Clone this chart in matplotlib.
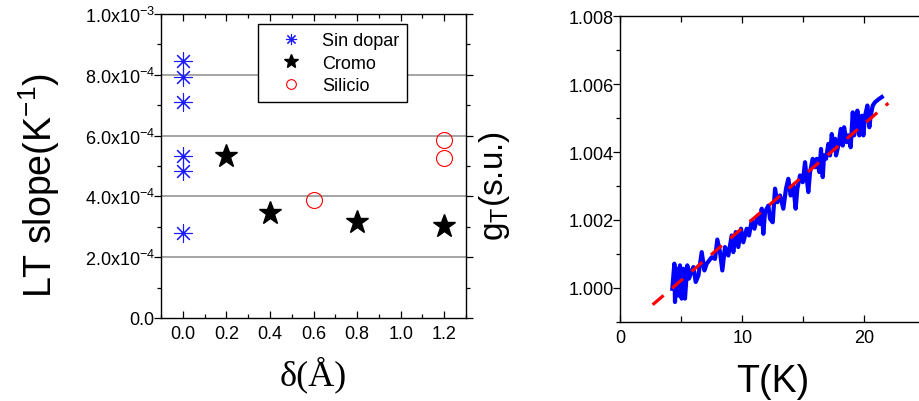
import numpy as np
import matplotlib
matplotlib.use('Agg')
import matplotlib.pyplot as plt
from matplotlib.ticker import MultipleLocator, FuncFormatter
from matplotlib.lines import Line2D

plt.rcParams['font.family'] = ['Liberation Sans', 'DejaVu Sans']
plt.rcParams['mathtext.fontset'] = 'custom'
plt.rcParams['mathtext.rm'] = 'Liberation Sans'
plt.rcParams['mathtext.it'] = 'Liberation Sans:italic'
plt.rcParams['mathtext.bf'] = 'Liberation Sans:bold'

# LT slope vs delta
sin_dopar_d = [0.0, 0.0, 0.0, 0.0, 0.0, 0.0]
sin_dopar_s = [8.44e-4, 7.92e-4, 7.11e-4, 5.34e-4, 4.83e-4, 2.79e-4]
cromo_d = [0.2, 0.4, 0.8, 1.2]
cromo_s = [5.34e-4, 3.44e-4, 3.15e-4, 3.03e-4]
silicio_d = [0.6, 1.2, 1.2]
silicio_s = [3.89e-4, 5.84e-4, 5.27e-4]

# g_T vs temperature
T_data = [4.26, 4.43, 4.48, 4.62, 4.76, 4.89, 5.03, 5.17, 5.30, 5.49, 5.63, 5.85,
          5.99, 6.18, 6.40, 6.67, 6.89, 7.08, 7.49, 7.76, 7.95, 8.17, 8.36, 8.58,
          8.85, 9.13, 9.26, 9.46, 9.67, 9.89, 10.08, 10.36, 10.55, 10.77, 10.99,
          11.26, 11.45, 11.59, 11.72, 11.86, 12.13, 12.27, 12.49, 12.68, 12.87,
          13.09, 13.36, 13.58, 13.77, 13.96, 14.18, 14.37, 14.51, 14.73, 14.95,
          15.14, 15.28, 15.41, 15.55, 15.77, 15.96, 16.10, 16.31, 16.45, 16.59,
          16.70, 16.86, 17.05, 17.19, 17.33, 17.46, 17.60, 17.68, 17.87, 18.07,
          18.23, 18.34, 18.55, 18.69, 18.88, 19.05, 19.16, 19.32, 19.43, 19.59,
          19.79, 19.92, 20.06, 20.25, 20.41, 20.52, 20.69, 20.88, 21.15, 21.43]
g_data = [0.99997, 1.00071, 0.99958, 1.00056, 0.99977, 1.00066, 0.99968, 1.00056,
          0.99968, 1.00066, 1.00027, 1.00051, 1.00061, 1.00017, 1.00036, 1.00105,
          1.00051, 1.00071, 1.00090, 1.00085, 1.00142, 1.00105, 1.00051, 1.00120,
          1.00095, 1.00154, 1.00105, 1.00164, 1.00120, 1.00174, 1.00134, 1.00174,
          1.00154, 1.00198, 1.00174, 1.00213, 1.00188, 1.00233, 1.00159, 1.00223,
          1.00242, 1.00203, 1.00193, 1.00292, 1.00252, 1.00272, 1.00233, 1.00292,
          1.00321, 1.00272, 1.00301, 1.00233, 1.00292, 1.00331, 1.00311, 1.00370,
          1.00321, 1.00282, 1.00341, 1.00380, 1.00355, 1.00380, 1.00341, 1.00409,
          1.00326, 1.00390, 1.00380, 1.00424, 1.00390, 1.00453, 1.00409, 1.00439,
          1.00390, 1.00419, 1.00468, 1.00419, 1.00473, 1.00429, 1.00449, 1.00414,
          1.00517, 1.00449, 1.00478, 1.00522, 1.00449, 1.00507, 1.00449, 1.00507,
          1.00537, 1.00473, 1.00507, 1.00537, 1.00547, 1.00555, 1.00562]
T_fit = [2.65, 21.97]
g_fit = [0.99950, 1.00544]


def sci_fmt(v, pos):
    if abs(v) < 1e-12:
        return '0.0'
    e = int(np.floor(np.log10(abs(v)) + 1e-9))
    m = v / 10**e
    return '%.1fx10$^{%d}$' % (m, e)


fig = plt.figure(figsize=(9.19, 4.02), dpi=100)
ax1 = fig.add_axes([0.1752, 0.2065, 0.3319, 0.7562])
ax2 = fig.add_axes([0.675, 0.1973, 0.3319, 0.7597])

for ax in (ax1, ax2):
    for s in ax.spines.values():
        s.set_linewidth(1.0)
    ax.tick_params(which='both', top=True, right=True, direction='in',
                   labelsize=13, width=0.9, pad=5)
    ax.tick_params(axis='y', which='both', left=True, direction='out', pad=-0.5)
    ax.tick_params(which='major', length=5)
    ax.tick_params(which='minor', length=3)

# left panel
for y in [2e-4, 4e-4, 6e-4, 8e-4]:
    ax1.axhline(y, color='#8c8c8c', lw=1.1, zorder=1)
ax1.plot(sin_dopar_d, sin_dopar_s, ls='none', marker=(8, 2, 0), ms=13,
         mec='#1a1aff', mew=0.8, zorder=3)
ax1.plot(cromo_d, cromo_s, ls='none', marker='*', ms=17, color='black', zorder=3)
ax1.plot(silicio_d, silicio_s, ls='none', marker='o', ms=11.5, mfc='none',
         mec='red', mew=0.8, zorder=3)
ax1.set_xlim(-0.1, 1.3)
ax1.set_ylim(0, 1e-3)
ax1.xaxis.set_major_locator(MultipleLocator(0.2))
ax1.xaxis.set_minor_locator(MultipleLocator(0.1))
ax1.yaxis.set_major_locator(MultipleLocator(2e-4))
ax1.yaxis.set_minor_locator(MultipleLocator(1e-4))
ax1.yaxis.set_major_formatter(FuncFormatter(sci_fmt))
ax1.xaxis.set_major_formatter(FuncFormatter(lambda v, p: '%.1f' % v))
ax1.set_ylabel('LT slope(K$^{-1}$)', fontsize=27)
ax1.yaxis.set_label_coords(-0.325, 0.44)
ax1.set_xlabel('δ(Å)', fontsize=26, family=['Liberation Serif', 'DejaVu Serif'])
ax1.xaxis.set_label_coords(0.5, -0.125)

handles = [
    Line2D([], [], ls='none', marker=(8, 2, 0), ms=8, mec='#1a1aff', mew=0.8),
    Line2D([], [], ls='none', marker='*', ms=10, color='black'),
    Line2D([], [], ls='none', marker='o', ms=7, mfc='none', mec='red', mew=0.8),
]
leg = ax1.legend(handles, ['Sin dopar', 'Cromo', 'Silicio'], loc='upper left',
                 bbox_to_anchor=(0.318, 0.967), borderaxespad=0, fontsize=13,
                 fancybox=False, framealpha=1, edgecolor='black',
                 handlelength=2.8, handletextpad=0.3, borderpad=0.45,
                 labelspacing=0.3)
leg.get_frame().set_linewidth(1.0)
leg.set_zorder(5)

# right panel
ax2.plot(T_data, g_data, color='#0000ff', lw=3.0, zorder=2)
ax2.plot(T_fit, g_fit, color='red', lw=2.3, ls=(0, (4.5, 3.5)), zorder=3)
ax2.set_xlim(0, 25)
ax2.set_ylim(0.999, 1.008)
ax2.xaxis.set_major_locator(MultipleLocator(10))
ax2.xaxis.set_minor_locator(MultipleLocator(5))
ax2.yaxis.set_major_locator(MultipleLocator(0.002))
ax2.yaxis.set_minor_locator(MultipleLocator(0.001))
ax2.yaxis.set_major_formatter(FuncFormatter(lambda v, p: '%.3f' % v))
ax2.tick_params(axis='x', which='minor', length=4.5)
ax2.set_ylabel('g$_\\mathrm{T}$(s.u.)', fontsize=24)
ax2.yaxis.set_label_coords(-0.355, 0.448)
ax2.set_xlabel('T(K)', fontsize=27)
ax2.xaxis.set_label_coords(0.5, -0.135)

fig.savefig('out.png', dpi=100)
